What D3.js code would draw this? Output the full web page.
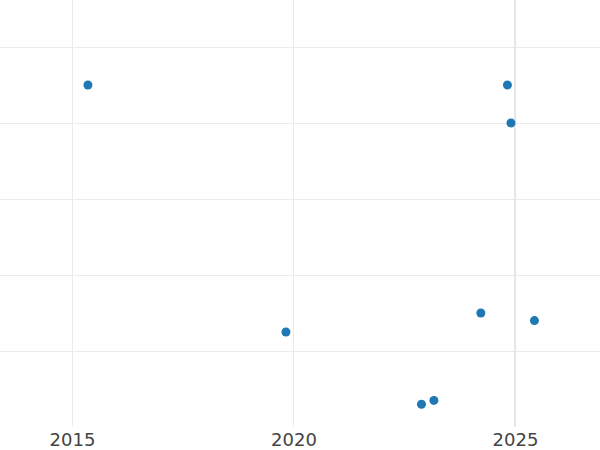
<!DOCTYPE html>
<html>
<head>
<meta charset="utf-8">
<script src="https://cdn.jsdelivr.net/npm/d3@7"></script>
<style>
  body { margin: 0; background: #fff; }
  svg { display: block; }
</style>
</head>
<body>
<div id="plot"></div>
<script>
// chart data
const years = [2015.36, 2024.83, 2024.91, 2019.83, 2024.23, 2025.44, 2022.89, 2023.17];
const values = [45.0, 45.0, 40.0, 12.5, 15.0, 14.0, 3.0, 3.5];
const xTicks = [2015, 2020, 2025];
const yTicks = [10, 20, 30, 40, 50];

const svgWidth = 600;
const svgHeight = 450;
const plotBottom = 427;

let svg = d3.select("#plot")
  .append("svg")
  .attr("width", svgWidth)
  .attr("height", svgHeight);

// scales
var x = d3.scaleLinear()
  .domain([2013.375, 2026.92])
  .range([0, svgWidth]);

var y = d3.scaleLinear()
  .domain([0, 56.18])
  .range([plotBottom, 0]);

// horizontal grid
svg.append("g")
  .selectAll("line")
  .data(yTicks)
  .enter()
  .append("line")
  .attr("x1", 0)
  .attr("x2", svgWidth)
  .attr("y1", d => Math.round(y(d)) + 0.5)
  .attr("y2", d => Math.round(y(d)) + 0.5)
  .attr("stroke", "#ebebeb")
  .attr("stroke-width", 1);

// vertical grid (2025 line drawn a bit heavier)
svg.append("g")
  .selectAll("line")
  .data(xTicks)
  .enter()
  .append("line")
  .attr("x1", d => d === 2025 ? Math.round(x(d)) : Math.round(x(d)) + 0.5)
  .attr("x2", d => d === 2025 ? Math.round(x(d)) : Math.round(x(d)) + 0.5)
  .attr("y1", 0)
  .attr("y2", plotBottom)
  .attr("stroke", d => d === 2025 ? "#e6e6e6" : "#ebebeb")
  .attr("stroke-width", d => d === 2025 ? 2 : 1);

// x axis labels
let xAxis = svg.append("g")
  .attr("transform", "translate(0," + plotBottom + ")")
  .call(d3.axisBottom(x).tickValues(xTicks).tickFormat(d3.format("d")).tickSize(0).tickPadding(6));
xAxis.select(".domain").remove();
xAxis.selectAll("text")
  .attr("font-family", "DejaVu Sans, sans-serif")
  .attr("font-size", 18)
  .attr("fill", "#444");

// points
svg.append("g")
  .selectAll("circle")
  .data(years.map((d, i) => [d, values[i]]))
  .enter()
  .append("circle")
  .attr("cx", d => x(d[0]))
  .attr("cy", d => y(d[1]))
  .attr("r", 4.5)
  .attr("fill", "#1f77b4");
</script>
</body>
</html>
